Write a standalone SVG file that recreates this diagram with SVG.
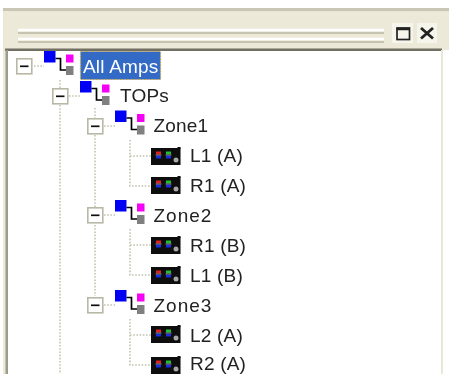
<svg xmlns="http://www.w3.org/2000/svg" width="449" height="374" viewBox="0 0 449 374">
<style>
text{font-family:"Liberation Sans",Arial,sans-serif;font-size:19px;letter-spacing:.2px;fill:#222}
.wide{letter-spacing:1px}
.d{fill:none;stroke:#c4c2b0;stroke-width:1.6;stroke-dasharray:1.6 1.6}
.x{fill:#fff;stroke:#b9b7a6;stroke-width:1.6}
.m{stroke:#111;stroke-width:1.7}
.b{fill:none;stroke:#222;stroke-width:1.7}
.soft{filter:url(#s)}
</style>
<defs>
<filter id="s" x="-5%" y="-5%" width="110%" height="110%"><feGaussianBlur stdDeviation="0.35"/></filter>
<g id="zone-icon">
<rect width="11.500" height="11.500" fill="#0000f5"/>
<rect x="22" y="3.500" width="7.500" height="8" fill="#f700f7"/>
<rect x="22" y="15" width="7.500" height="9" fill="#808080"/>
<path d="M11.500 7.500H16.500V19H22" fill="none" stroke="#000" stroke-width="1.700"/>
</g>
<g id="amp-icon">
<rect y="1" width="29.500" height="17" fill="#080808"/>
<rect x="26.500" width="3" height="2" fill="#080808"/>
<rect x="5" y="4.500" width="5" height="3" fill="#e02020"/>
<rect x="5" y="8.500" width="5" height="3" fill="#1a2ee0"/>
<rect x="15" y="4.500" width="5" height="3" fill="#20c030"/>
<rect x="15" y="8.500" width="5" height="3" fill="#1a2ee0"/>
<rect x="4.500" y="7.500" width="6" height="1" fill="#8a8a90"/>
<rect x="14.500" y="7.500" width="6" height="1" fill="#8a8a90"/>
<circle cx="25" cy="13" r="2.500" fill="#a8a8a8"/>
</g>
<g id="minus-box">
<rect x="0.800" y="0.800" width="15" height="15" class="x"/>
<path d="M4 8.300H12.500" class="m"/>
</g>
</defs>
<g id="window" class="soft">
<rect width="449" height="374" fill="#fff"/>
<rect x="3" y="8" width="446" height="3.500" fill="#c9c6b4"/>
<rect x="3" y="11.500" width="446" height="38.500" fill="#ece9d8"/>
<rect x="3" y="11" width="5" height="363" fill="#ece9d8"/>
<rect x="5" y="48.500" width="437" height="2.500" fill="#716f64"/>
<rect x="5.500" y="50" width="2.500" height="324" fill="#9d9b8b"/>
<rect x="441" y="50" width="2" height="324" fill="#e8e6d6"/>
<path d="M18 30H384M18 39H384" fill="none" stroke="#fff" stroke-width="2.500"/>
<path d="M18 33H384M18 42H384" fill="none" stroke="#c6c3b0" stroke-width="2"/>
<rect x="392" y="23" width="21" height="20" fill="#f6f5ec"/>
<rect x="417" y="23" width="20" height="20" fill="#f6f5ec"/>
<rect x="397" y="28" width="12.500" height="11.500" class="b"/>
<path d="M396.500 29H410" stroke="#222" stroke-width="2.500"/>
<path d="M421 28L433 38.500M433 28L421 38.500" stroke="#222" stroke-width="2.800"/>
</g>
<g id="connectors" class="d soft">
<path d="M34 66H44M60 80V88M60 105V374M69 96H80M95 108V118M95 135V207M95 225V296M104 126H115M130 140V186H151M130 156H151M104 215H115M130 229V275H151M130 245H151M104 305H115M130 319V365H151M130 335H151"/>
</g>
<g id="tree-all-amps" class="soft">
<use href="#minus-box" x="16" y="58"/><use href="#zone-icon" x="44" y="51"/>
<rect x="80.500" y="51.500" width="80" height="28" fill="#316ac5" stroke="#c8a040" stroke-width="1.200" stroke-dasharray="1.500 1.500"/>
<text x="83" y="72.500" style="fill:#fff">All Amps</text>
</g>
<g id="tree-tops" class="soft">
<use href="#minus-box" x="52" y="88"/><use href="#zone-icon" x="80" y="81"/>
<text x="120" y="102">TOPs</text>
</g>
<g id="tree-zone1" class="soft">
<use href="#minus-box" x="87" y="118"/><use href="#zone-icon" x="115" y="110.500"/>
<text x="153.500" y="132">Zone1</text>
</g>
<g id="tree-l1a" class="soft"><use href="#amp-icon" x="151" y="147"/><text x="190" y="162">L1 (A)</text></g>
<g id="tree-r1a" class="soft"><use href="#amp-icon" x="151" y="176"/><text x="190" y="192">R1 (A)</text></g>
<g id="tree-zone2" class="soft">
<use href="#minus-box" x="87" y="207"/><use href="#zone-icon" x="115" y="200"/>
<text x="153.500" y="222" class="wide">Zone2</text>
</g>
<g id="tree-r1b" class="soft"><use href="#amp-icon" x="151" y="236"/><text x="190" y="252">R1 (B)</text></g>
<g id="tree-l1b" class="soft"><use href="#amp-icon" x="151" y="266"/><text x="190" y="282">L1 (B)</text></g>
<g id="tree-zone3" class="soft">
<use href="#minus-box" x="87" y="297"/><use href="#zone-icon" x="115" y="290"/>
<text x="153.500" y="312" class="wide">Zone3</text>
</g>
<g id="tree-l2a" class="soft"><use href="#amp-icon" x="151" y="325"/><text x="190" y="342">L2 (A)</text></g>
<g id="tree-r2a" class="soft"><use href="#amp-icon" x="151" y="356"/><text x="190" y="370">R2 (A)</text></g>
</svg>
